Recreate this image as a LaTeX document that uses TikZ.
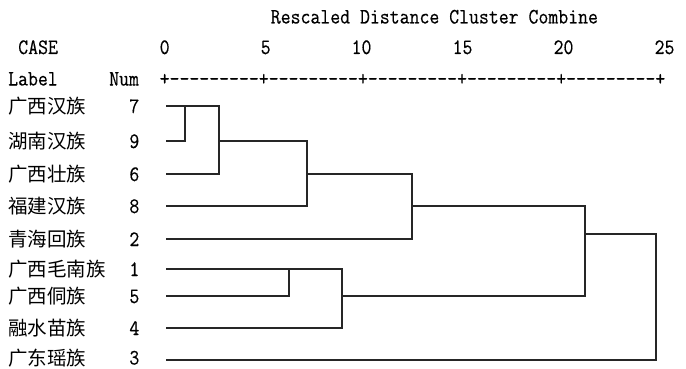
\documentclass[tikz,border=0pt]{standalone}
\usepackage{fontspec}
\newfontfamily\monofnt[FakeStretch=0.875,FakeBold=0.4]{Latin Modern Mono}
\newfontfamily\cjkfnt{Noto Sans CJK SC}
\begin{document}
\begin{tikzpicture}[x=1pt,y=-1pt,
  txt/.style={anchor=base west, inner sep=0pt, font=\monofnt\fontsize{22}{22}\selectfont},
  cn/.style={anchor=base west, inner sep=0pt, font=\cjkfnt\fontsize{19.5}{19.5}\selectfont},
  link/.style={line width=2pt, draw=black!85, line cap=rect}]
\useasboundingbox (0,0) rectangle (686,369);
% header
\node[txt] (title) at (270.6,23.5) {Rescaled Distance Cluster Combine};
\node[txt] (case) at (18.1,54) {CASE};
\node[txt] (t0) at (159.5,54) {0};
\node[txt] (t5) at (260.5,54) {5};
\node[txt] (t10) at (351.4,54) {10};
\node[txt] (t15) at (452.4,54) {15};
\node[txt] (t20) at (553.4,54) {20};
\node[txt] (t25) at (654.4,54) {25};
\node[txt] (label) at (8,85.5) {Label};
\node[txt] (num) at (109,85.5) {Num};
\node[txt] (axis) at (159.5,85.5) {+---------+---------+---------+---------+---------+};
% rows
\foreach \nm/\n/\y in {广西汉族/7/106, 湖南汉族/9/141, 广西壮族/6/174, 福建汉族/8/206, 青海回族/2/239, 广西毛南族/1/269, 广西侗族/5/296, 融水苗族/4/328, 广东瑶族/3/357.5}{
  \node[cn] (name\n) at (8,\y+7.5) {\nm};
  \node[txt] (num\n) at (129.2,\y+7) {\n};
}
% dendrogram coordinates
\coordinate (s7) at (167,106);
\coordinate (s9) at (167,141);
\coordinate (s6) at (167,174);
\coordinate (s8) at (167,206);
\coordinate (s2) at (167,239);
\coordinate (s1) at (167,269);
\coordinate (s5) at (167,296);
\coordinate (s4) at (167,328);
\coordinate (s3) at (167,360);
\coordinate (j79) at (185,106);
\coordinate (j796) at (219,106);
\coordinate (c796) at (219,141);
\coordinate (e8) at (307,206);
\coordinate (c4) at (307,174);
\coordinate (e2) at (412,239);
\coordinate (c5) at (412,206);
\coordinate (e15) at (585,296);
\coordinate (j15) at (289,269);
\coordinate (e1) at (342,269);
\coordinate (e4) at (342,328);
\coordinate (c154) at (342,296);
\coordinate (call) at (585,234);
\coordinate (e3) at (656,360);
% links
\draw[link] (s7) -- (j796);
\draw[link] (s9) -| (j79);
\draw[link] (s6) -| (j796);
\draw[link] (c796) -| (e8);
\draw[link] (s8) -- (e8);
\draw[link] (c4) -| (e2);
\draw[link] (s2) -- (e2);
\draw[link] (c5) -| (e15);
\draw[link] (s1) -- (e1);
\draw[link] (s5) -| (j15);
\draw[link] (s4) -- (e4);
\draw[link] (e1) -- (e4);
\draw[link] (c154) -- (e15);
\draw[link] (call) -| (e3);
\draw[link] (s3) -- (e3);
\end{tikzpicture}
\end{document}
